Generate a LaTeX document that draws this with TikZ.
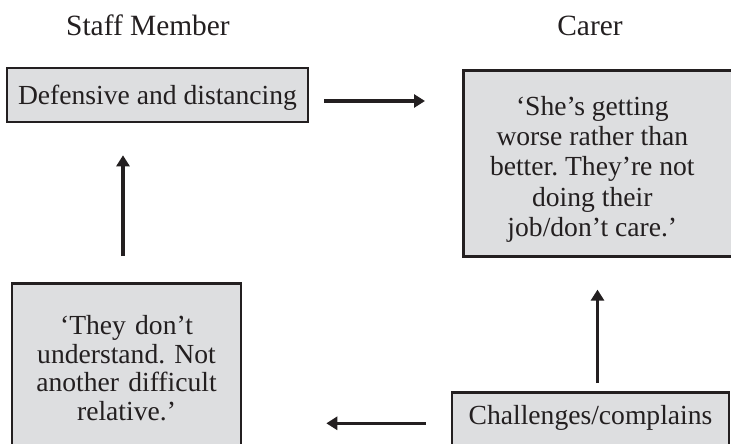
\documentclass[tikz,border=0pt]{standalone}
\usepackage{fontspec}
\setmainfont{Liberation Serif}
\usetikzlibrary{calc,arrows.meta}
\definecolor{boxfill}{RGB}{221,222,224}
\definecolor{ink}{RGB}{35,31,32}
\frenchspacing

\begin{document}
\begin{tikzpicture}[x=0.5pt,y=-0.5pt]
  \useasboundingbox (0,0) rectangle (731,443);
  \clip (0,0) rectangle (731,443);

  % column headings
  \begin{scope}[every node/.style={text=ink,anchor=base,font=\fontsize{14.7}{16}\selectfont}]
    \node (staff) at (148,36) {Staff Member};
    \node (carer) at (590,36) {Carer};
  \end{scope}

  % the four boxes
  \begin{scope}[every node/.style={rectangle,draw=ink,fill=boxfill,text=ink,line width=1.3pt,font=\fontsize{13.8}{14.3}\selectfont}]
    \node[minimum width=150.5pt,minimum height=27pt,text height=12pt,text depth=2pt,inner sep=0pt] (defensive) at (157.5,95) {Defensive and distancing};
    \node[anchor=north west,inner sep=0pt,font=\fontsize{13.8}{15.2}\selectfont] (worse) at (462,69)
      {\parbox[c][93pt][c]{129pt}{\centering\vspace*{6pt}‘She’s getting\\worse rather than\\better. They’re not\\doing their\\job/don’t care.’}\rule{30pt}{0pt}};
    \node[anchor=north,minimum width=114.5pt,minimum height=85pt,text width=105pt,align=center] (difficult) at (126.5,282)
      {‘They don’t\\understand. Not\\another difficult\\relative.’};
    \node[anchor=north,minimum width=138.5pt,text height=10pt,text depth=12pt,inner ysep=6pt] (complain) at (590.5,391) {Challenges/complains};
  \end{scope}

  % arrows between the boxes
  \begin{scope}[line width=1.6pt,draw=ink,-{Triangle[length=5.5pt,width=6.5pt]}]
    \draw ($(defensive.east)+(15,6)$) -- ($(defensive.east -| worse.west)+(-37,6)$);
    \draw ($(complain.north)+(7,-8)$) -- ($(complain.north |- worse.south)+(7,32)$);
    \draw ($(complain.base west)+(-25,-1)$) -- ($(complain.base west -| difficult.east)+(84,-1)$);
    \draw ($(difficult.north)+(-3.5,-26)$) -- ($(difficult.north |- defensive.south)+(-3.5,32)$);
  \end{scope}

\end{tikzpicture}
\end{document}
